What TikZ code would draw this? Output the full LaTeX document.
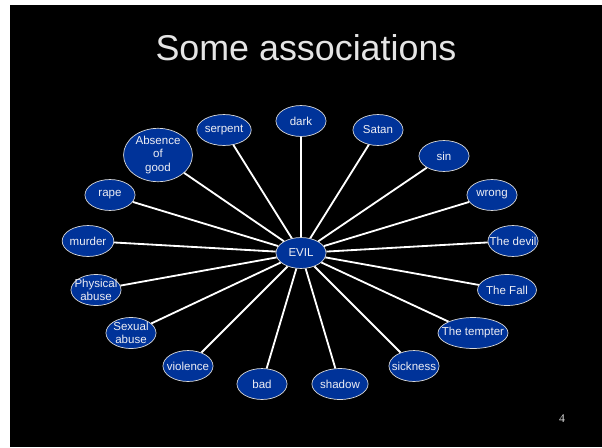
\documentclass[tikz,border=0pt]{standalone}
\usepackage{fontspec}
\setmainfont{Liberation Sans}
\newfontfamily\pagenumfont{Liberation Serif}
\usepackage{tikz}
\usetikzlibrary{shapes.geometric}
\definecolor{slideblue}{HTML}{003399}
\definecolor{slidetext}{HTML}{EEEEF4}
\tikzset{
  assocbox/.style = {draw=white!85!black, line width=0.5pt, fill=slideblue},
}
% text that may run past the rim of its ellipse, as on the slide
\newcommand{\spill}[1]{\makebox[0pt]{#1}}

\begin{document}
\begin{tikzpicture}[
            every node/.style={font=\fontsize{8.2}{9.6}\selectfont, text=slidetext},
            assoc/.style ={assocbox, ellipse, align=center, inner sep=0pt,
                    minimum width=35.6pt, minimum height=22pt},
            link/.style  ={-, draw=white, line width=1.3pt},
            x=0.025cm, y=-0.025cm
        ]

        %% --- Slide frame ---------------------------------------------------
        \useasboundingbox (0,0) rectangle (602,447);
        \fill[black] (10,5) rectangle (602,447);
        \node[font=\fontsize{25.5}{28}\selectfont, text=white!90!black] (title)
        at (306,48) {Some associations};
        \node[font=\pagenumfont\fontsize{8.4}{10}\selectfont, text=white!85!black] (pagenum)
        at (562,419) {4};

        %% --- Centre --------------------------------------------------------
        \node[assoc] (evil) at (301,253) {EVIL};

        %% --- Ring of associations (clockwise from the top) ------------------
        \node[assoc] (dark)     at (301,121) {dark};
        \node[assoc] (satan)    at (378,130) {Satan};
        \node[assoc] (sin)      at (444,156) {sin};
        \node[assoc] (wrong)    at (492,195) {wrong};
        \node[assoc] (devil)    at (513,241) {\spill{The devil}};
        \node[assoc] (fall)     at (507,290) {The Fall};
        \node[assoc, minimum width=49.8pt] (tempter) at (473,333) {\spill{The tempter}};
        \node[assoc] (sickness) at (414,366) {\spill{sickness}};
        \node[assoc] (shadow)   at (340,384) {shadow};
        \node[assoc] (bad)      at (262,384) {bad};
        \node[assoc] (violence) at (188,366) {\spill{violence}};
        \node[assoc] (sexual)   at (131,333) {\spill{Sexual}\\\spill{abuse}};
        \node[assoc] (physical) at (96,290)  {\spill{Physical}\\\spill{abuse}};
        \node[assoc] (murder)   at (88,241)  {murder};
        \node[assoc] (rape)     at (110,195) {rape};
        \node[assoc, minimum width=49pt, minimum height=31.3pt] (absence)
        at (158,155) {\spill{Absence}\\of\\good};
        \node[assoc] (serpent)  at (224,130) {serpent};

        %% --- Spokes (node to node, so they stop at the rims) ---------------
        \draw[link] (evil) -- (dark);
        \draw[link] (evil) -- (satan);
        \draw[link] (evil) -- (sin);
        \draw[link] (evil) -- (wrong);
        \draw[link] (evil) -- (devil);
        \draw[link] (evil) -- (fall);
        \draw[link] (evil) -- (tempter);
        \draw[link] (evil) -- (sickness);
        \draw[link] (evil) -- (shadow);
        \draw[link] (evil) -- (bad);
        \draw[link] (evil) -- (violence);
        \draw[link] (evil) -- (sexual);
        \draw[link] (evil) -- (physical);
        \draw[link] (evil) -- (murder);
        \draw[link] (evil) -- (rape);
        \draw[link] (evil) -- (absence);
        \draw[link] (evil) -- (serpent);

    \end{tikzpicture}
\end{document}
